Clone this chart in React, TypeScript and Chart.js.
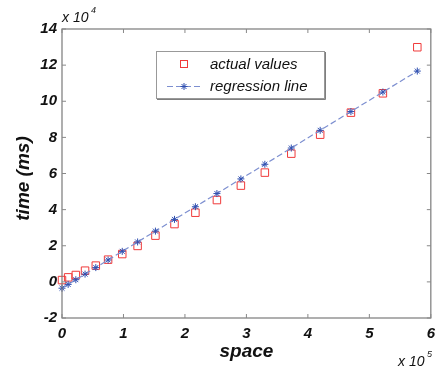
import React, { useEffect, useRef } from "react";
import { Chart, registerables } from "chart.js";

Chart.register(...registerables);

// x in units of 1e5, y in units of 1e4
const spaceValues = [0.0, 0.1, 0.225, 0.375, 0.55, 0.75, 0.98, 1.23, 1.52, 1.83, 2.17, 2.52, 2.91, 3.3, 3.73, 4.2, 4.7, 5.22, 5.78];
const actualTimes = [0.1, 0.25, 0.38, 0.62, 0.9, 1.23, 1.54, 1.99, 2.56, 3.2, 3.83, 4.53, 5.33, 6.05, 7.1, 8.15, 9.37, 10.44, 12.99];
const regressionTimes = [-0.35, -0.14, 0.12, 0.43, 0.79, 1.21, 1.69, 2.21, 2.81, 3.46, 4.16, 4.89, 5.7, 6.51, 7.41, 8.39, 9.43, 10.51, 11.67];
const xTicks = [0, 1, 2, 3, 4, 5, 6];
const yTicks = [-2, 0, 2, 4, 6, 8, 10, 12, 14];

const FONT = "'Liberation Sans', Arial, sans-serif";
const RED = "#f03a3a";
const BLUE = "#2f4fb0";
const LINE = "#7d8fd0";

const overlay = {
  id: "overlay",
  afterDraw(chart: any) {
    const ctx = chart.ctx;
    const a = chart.chartArea;
    const xs = chart.scales.x;
    const ys = chart.scales.y;
    ctx.save();
    // box
    ctx.strokeStyle = "#7a7a7a";
    ctx.lineWidth = 1.2;
    ctx.strokeRect(a.left, a.top, a.right - a.left, a.bottom - a.top);
    // inward ticks
    ctx.lineWidth = 1;
    ctx.strokeStyle = "#888";
    xTicks.forEach((t) => {
      const px = xs.getPixelForValue(t);
      ctx.beginPath();
      ctx.moveTo(px, a.bottom); ctx.lineTo(px, a.bottom - 4);
      ctx.moveTo(px, a.top); ctx.lineTo(px, a.top + 4);
      ctx.stroke();
    });
    yTicks.forEach((t) => {
      const py = ys.getPixelForValue(t);
      ctx.beginPath();
      ctx.moveTo(a.left, py); ctx.lineTo(a.left + 4, py);
      ctx.moveTo(a.right, py); ctx.lineTo(a.right - 4, py);
      ctx.stroke();
    });
    // axis titles
    ctx.fillStyle = "#111";
    ctx.font = `italic bold 19px ${FONT}`;
    ctx.textAlign = "center";
    ctx.textBaseline = "middle";
    ctx.fillText("space", (a.left + a.right) / 2, 352);
    ctx.save();
    ctx.translate(24, (a.top + a.bottom) / 2 + 5);
    ctx.rotate(-Math.PI / 2);
    ctx.fillText("time (ms)", 0, 0);
    ctx.restore();
    // exponents
    ctx.textAlign = "left";
    ctx.textBaseline = "alphabetic";
    ctx.font = `italic 14px ${FONT}`;
    ctx.fillText("x 10", 62, 22);
    ctx.font = `italic 9px ${FONT}`;
    ctx.fillText("4", 91, 13);
    ctx.font = `italic 14px ${FONT}`;
    ctx.fillText("x 10", 398, 366);
    ctx.font = `italic 9px ${FONT}`;
    ctx.fillText("5", 427, 357);
    // legend
    const lx = 156, ly = 51, lw = 168, lh = 47;
    ctx.fillStyle = "#fff";
    ctx.fillRect(lx, ly, lw, lh);
    ctx.strokeStyle = "#555";
    ctx.lineWidth = 1.5;
    ctx.beginPath();
    ctx.moveTo(lx + lw + 1, ly + 1); ctx.lineTo(lx + lw + 1, ly + lh + 1); ctx.lineTo(lx + 1, ly + lh + 1);
    ctx.stroke();
    ctx.strokeStyle = "#999";
    ctx.lineWidth = 1;
    ctx.strokeRect(lx + 0.5, ly + 0.5, lw, lh);
    // entry 1
    ctx.strokeStyle = RED;
    ctx.lineWidth = 1;
    ctx.strokeRect(180.5, 60.5, 7, 7);
    ctx.fillStyle = "#111";
    ctx.font = `italic 15px ${FONT}`;
    ctx.fillText("actual values", 210, 69);
    // entry 2
    ctx.strokeStyle = LINE;
    ctx.lineWidth = 1.2;
    ctx.setLineDash([6, 3]);
    ctx.beginPath();
    ctx.moveTo(167, 86.5); ctx.lineTo(201, 86.5);
    ctx.stroke();
    ctx.setLineDash([]);
    ctx.strokeStyle = BLUE;
    ctx.lineWidth = 1;
    const sx = 184, sy = 86.5, r = 3.5;
    ctx.beginPath();
    for (let i = 0; i < 4; i++) {
      const ang = (i * Math.PI) / 4;
      ctx.moveTo(sx - r * Math.cos(ang), sy - r * Math.sin(ang));
      ctx.lineTo(sx + r * Math.cos(ang), sy + r * Math.sin(ang));
    }
    ctx.stroke();
    ctx.fillStyle = "#111";
    ctx.fillText("regression line", 210, 91);
    ctx.restore();
  },
};

export default function App() {
  const ref = useRef<HTMLCanvasElement>(null);
  useEffect(() => {
    document.body.style.margin = "0";
    const chart = new Chart(ref.current!, {
      type: "scatter",
      data: {
        datasets: [
          {
            label: "regression line",
            data: spaceValues.map((x, i) => ({ x, y: regressionTimes[i] })),
            showLine: true,
            clip: false,
            borderColor: LINE,
            borderWidth: 1.2,
            borderDash: [6, 3],
            pointStyle: "star",
            pointRadius: 3.5,
            pointBorderColor: BLUE,
            pointBackgroundColor: BLUE,
            pointBorderWidth: 1,
          },
          {
            label: "actual values",
            data: spaceValues.map((x, i) => ({ x, y: actualTimes[i] })),
            clip: false,
            pointStyle: "rect",
            pointRadius: 5.3,
            pointBorderColor: RED,
            pointBackgroundColor: "rgba(0,0,0,0)",
            pointBorderWidth: 1,
          },
        ],
      },
      options: {
        animation: false,
        responsive: false,
        layout: { padding: { left: 0, right: 7, top: 29, bottom: 0 } },
        plugins: { legend: { display: false }, tooltip: { enabled: false } },
        scales: {
          x: {
            type: "linear",
            min: 0,
            max: 6,
            afterBuildTicks: (s: any) => { s.ticks = xTicks.map((v) => ({ value: v })); },
            afterFit: (s: any) => { s.height = 50; },
            grid: { display: false, drawTicks: false },
            border: { display: false },
            ticks: { padding: 7, color: "#111", font: { family: FONT, size: 15, style: "italic", weight: "bold" } },
          },
          y: {
            type: "linear",
            min: -2,
            max: 14,
            afterBuildTicks: (s: any) => { s.ticks = yTicks.map((v) => ({ value: v })); },
            afterFit: (s: any) => { s.width = 62; },
            grid: { display: false, drawTicks: false },
            border: { display: false },
            ticks: { padding: 5, color: "#111", font: { family: FONT, size: 15, style: "italic", weight: "bold" } },
          },
        },
      },
      plugins: [overlay],
    });
    return () => chart.destroy();
  }, []);
  return (
    <div style={{ width: 442, height: 368 }}>
      <canvas ref={ref} width={442} height={368} />
    </div>
  );
}
